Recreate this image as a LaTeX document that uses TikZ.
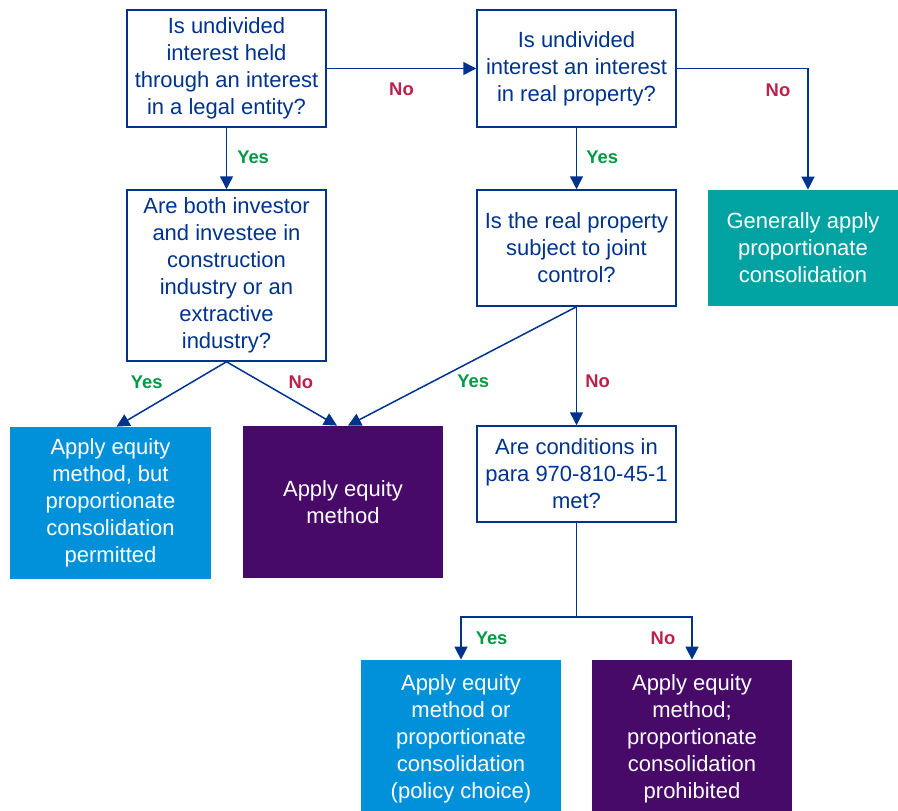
\documentclass[tikz,border=0pt]{standalone}
\usepackage{fontspec}
\setmainfont{Liberation Sans}
\usetikzlibrary{arrows.meta}
\definecolor{kblue}{HTML}{00338D}
\definecolor{klight}{HTML}{0091DA}
\definecolor{kpurple}{HTML}{470A68}
\definecolor{kteal}{HTML}{00A3A1}
\definecolor{kgreen}{HTML}{009A44}
\definecolor{kred}{HTML}{BC204B}
\tikzset{
  question/.style={draw=kblue,line width=0.75pt,text=kblue,align=center,
    minimum width=99.5pt,inner sep=0pt,font=\fontsize{11}{13.5}\selectfont},
  outcome/.style={fill=#1,text=white,align=center,minimum width=100pt,
    inner sep=0pt,font=\fontsize{11}{13.5}\selectfont},
  arr/.style={kblue,line width=0.75pt,-{Triangle[length=6.5pt,width=6.5pt]}},
  yes/.style={text=kgreen,inner sep=0pt,font=\bfseries\fontsize{9.2}{10}\selectfont},
  no/.style={yes,text=kred}
}
\begin{document}
\begin{tikzpicture}[x=0.5pt,y=-0.5pt]
    \useasboundingbox (0,0) rectangle (898,810);
    % questions
    \node[question,minimum height=58.5pt] (q1) at (226.5,68.5)
      {Is undivided\\interest held\\through an interest\\in a legal entity?};
    \node[question,minimum height=58.5pt] (q2) at (576.5,68.5)
      {Is undivided\\interest an interest\\in real property?};
    \node[question,minimum height=85.5pt] (q3) at (226.5,275.5)
      {Are both investor\\and investee in\\construction\\industry or an\\extractive\\industry?};
    \node[question,minimum height=58pt] (q4) at (576.5,248)
      {Is the real property\\subject to joint\\control?};
    \node[question,minimum height=48pt] (q5) at (576.5,474)
      {Are conditions in\\para 970-810-45-1\\met?};
    % outcomes
    \node[outcome=kteal,minimum width=95pt,minimum height=58pt] (gen) at (803,248)
      {Generally apply\\proportionate\\consolidation};
    \node[outcome=klight,minimum width=100.5pt,minimum height=76pt] (eqperm) at (110.5,503)
      {Apply equity\\method, but\\proportionate\\consolidation\\permitted};
    \node[outcome=kpurple,minimum height=76pt] (eq) at (343,502)
      {Apply equity\\method};
    \node[outcome=klight,minimum height=79pt] (eqchoice) at (461,739)
      {Apply equity\\method or\\proportionate\\consolidation\\(policy choice)};
    \node[outcome=kpurple,minimum height=79pt] (eqproh) at (692,739)
      {Apply equity\\method;\\proportionate\\consolidation\\prohibited};
    \coordinate (split) at (576.5,617);
    % connectors
    \draw[arr] (q1) -- (q2) node[midway,below=7pt,no] (n1) {No};
    \draw[arr] (q2.east) -| ([xshift=2.5pt]gen.north) node[pos=0.59,left=8.5pt,no] (n2) {No};
    \draw[arr] (q1) -- (q3) node[pos=0.48,right=5pt,yes] (y1) {Yes};
    \draw[arr] (q2) -- (q4) node[pos=0.48,right=4.5pt,yes] (y2) {Yes};
    \draw[arr] (q3.south) -- ([xshift=3pt]eqperm.north) node[pos=0.32,left=14pt,yes] (y3) {Yes};
    \draw[arr] (q3.south) -- ([xshift=-3pt]eq.north) node[pos=0.32,right=13pt,no] (n3) {No};
    \draw[arr] (q4.south) -- ([xshift=2.5pt]eq.north) node[pos=0.63,right=12pt,yes] (y4) {Yes};
    \draw[arr] (q4) -- (q5) node[pos=0.63,right=4pt,no] (n4) {No};
    \draw[kblue,line width=0.75pt] (q5) -- (split);
    \draw[arr] (split) -| (eqchoice.north) node[pos=0.75,right=7pt,yes] (y5) {Yes};
    \draw[arr] (split) -| (eqproh.north) node[pos=0.75,left=8pt,no] (n5) {No};
\end{tikzpicture}
\end{document}
